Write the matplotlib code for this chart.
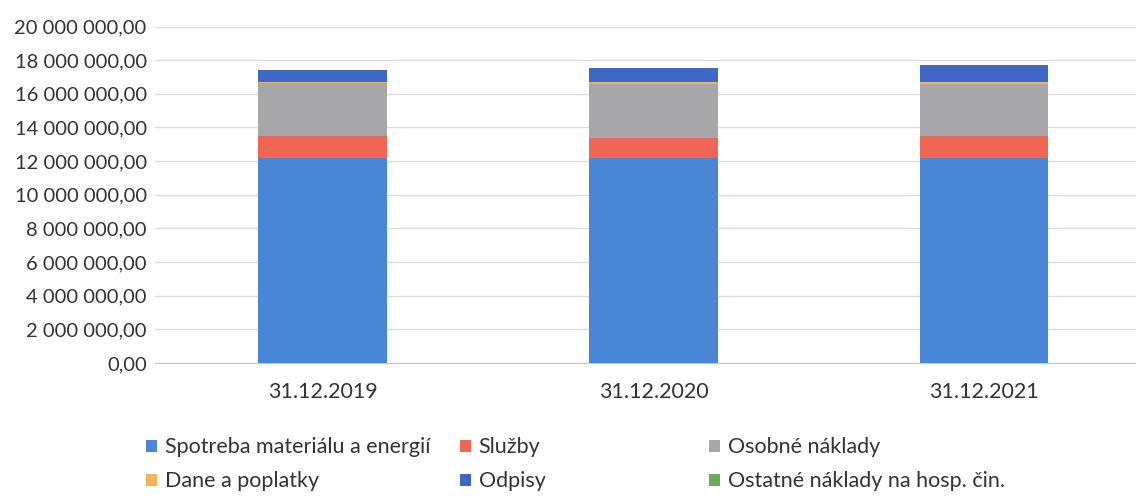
import numpy as np
import matplotlib.pyplot as plt
from matplotlib.ticker import FuncFormatter

plt.rcParams["font.family"] = ["Lato", "DejaVu Sans"]

# --------------------------------------------------------------
# DATA (odčítané z grafu)
# --------------------------------------------------------------
roky = ["31.12.2019", "31.12.2020", "31.12.2021"]

spotreba = [12200000, 12200000, 12200000]
sluzby = [1300000, 1200000, 1300000]
osobne = [3150000, 3200000, 3100000]
dane = [70000, 100000, 80000]
odpisy = [700000, 850000, 1050000]
ostatne = [10000, 10000, 10000]

serie = [
    ("Spotreba materiálu a energií", spotreba, "#4A86D6"),
    ("Služby", sluzby, "#EF6656"),
    ("Osobné náklady", osobne, "#A7A7A9"),
    ("Dane a poplatky", dane, "#F2B45A"),
    ("Odpisy", odpisy, "#3F67C6"),
    ("Ostatné náklady na hosp. čin.", ostatne, "#6AAE5A"),
]

# --------------------------------------------------------------
# GRAF
# --------------------------------------------------------------
fig = plt.figure(figsize=(11.36, 4.96), dpi=100)
ax = fig.add_axes([155 / 1136, 133 / 496, 1 - 155 / 1136, 336.5 / 496])

x = np.arange(len(roky))
spodok = np.zeros(len(roky))
handles = []
for nazov, hodnoty, farba in serie:
    b = ax.bar(x, hodnoty, width=0.39, bottom=spodok, color=farba, label=nazov, zorder=3)
    handles.append(b)
    spodok += np.array(hodnoty)

ax.set_ylim(0, 20000000)
ax.set_yticks(np.arange(0, 20000001, 2000000))
ax.yaxis.set_major_formatter(FuncFormatter(lambda v, p: f"{v:,.2f}".replace(",", " ").replace(".", ",")))
ax.set_xlim(-0.508, 2.46)
ax.set_xticks(x)
ax.set_xticklabels(roky)

ax.grid(axis="y", color="#DCDCDC", linewidth=1, zorder=0)
for s in ["top", "right", "left"]:
    ax.spines[s].set_visible(False)
ax.spines["bottom"].set_color("#C8C8C8")
ax.tick_params(axis="both", length=0, colors="#333333")
ax.tick_params(axis="y", pad=6, labelsize=14.5)
ax.tick_params(axis="x", pad=14, labelsize=15.5)

# legenda po stĺpcoch ako v Exceli
stlpce = [(0, 3, 127), (1, 4, 441), (2, 5, 690)]
for i, j, px in stlpce:
    fig.legend(handles=[handles[i], handles[j]], labels=[serie[i][0], serie[j][0]],
               loc="upper left", bbox_to_anchor=(px / 1136, 1 - 418 / 496),
               frameon=False, fontsize=15.5, handlelength=0.5, handleheight=0.5,
               handletextpad=0.35, labelspacing=0.65, labelcolor="#333333")

fig.savefig("out.png", dpi=100)
